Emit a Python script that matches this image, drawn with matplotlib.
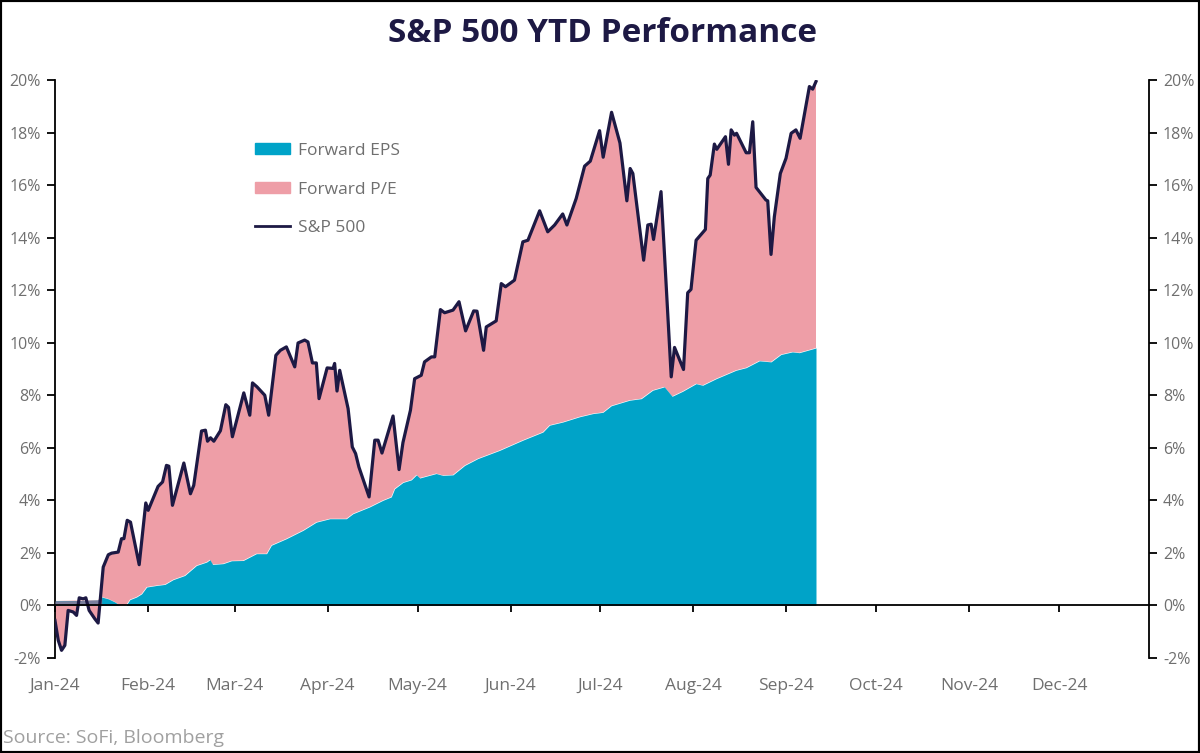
import matplotlib
matplotlib.use('Agg')
import matplotlib.pyplot as plt
import numpy as np
from matplotlib.patches import Patch, Rectangle
from matplotlib.lines import Line2D

# days since 1 Jan 2024 and YTD % change
sp_days = [0, 1.1, 2.2, 3.3, 4.4, 6.1, 7.2, 8.1, 9.4, 10.3, 11.4, 13.3, 14.4,
           16.1, 17.8, 18.9, 21.1, 22.2, 23.0, 24.1, 25.2, 28.1, 30.3, 31.1,
           34.4, 35.9, 37.2, 38.0, 39.2, 43.0, 45.2, 46.3, 48.9, 50.2, 50.9,
           51.9, 53.0, 55.2, 57.0, 57.9, 59.2, 63.0, 65.0, 65.9, 67.4, 70.0,
           71.3, 73.7, 75.2, 77.2, 80.0, 81.1, 83.3, 84.4, 85.9, 87.2, 88.1,
           90.8, 92.8, 93.3, 94.1, 95.0, 97.8, 99.2, 100.3, 101.4, 104.8,
           106.7, 107.8, 109.1, 112.8, 114.8, 116.1, 118.6, 120.0, 122.2,
           123.3, 125.6, 126.7, 128.6, 130.0, 132.8, 134.8, 137.0, 139.7,
           140.8, 143.0, 143.9, 147.2, 148.9, 150.3, 153.3, 156.1, 157.8,
           161.7, 164.4, 166.7, 169.4, 170.8, 173.9, 176.7, 178.6, 181.7,
           182.9, 185.7, 188.5, 190.8, 191.9, 192.8, 196.4, 197.8, 198.9,
           199.7, 202.2, 205.6, 206.7, 209.7, 211.1, 212.2, 213.9, 217.0,
           217.8, 218.6, 220.0, 220.8, 223.7, 224.7, 225.6, 226.7, 227.4,
           230.6, 231.7, 232.8, 233.9, 237.2, 237.8, 238.9, 240.0, 242.0,
           243.9, 245.6, 247.2, 248.6, 251.7, 252.8, 253.9]
sp_vals = [-0.57, -1.33, -1.71, -1.52, -0.19, -0.25, -0.38, 0.29, 0.25, 0.29,
           -0.19, -0.51, -0.67, 1.46, 1.93, 1.99, 2.03, 2.54, 2.54, 3.24, 3.17,
           1.55, 3.90, 3.62, 4.53, 4.70, 5.33, 5.30, 3.81, 5.42, 4.25, 4.57,
           6.64, 6.67, 6.25, 6.38, 6.25, 6.65, 7.64, 7.54, 6.42, 8.09, 7.24,
           8.47, 8.32, 8.00, 7.24, 9.52, 9.71, 9.84, 9.08, 9.99, 10.10, 10.03,
           9.23, 9.23, 7.87, 9.04, 9.02, 9.21, 8.16, 8.95, 7.49, 6.03, 5.78,
           5.27, 4.13, 6.29, 6.29, 5.80, 7.21, 5.17, 6.20, 7.43, 8.63, 8.76,
           9.27, 9.46, 9.46, 11.26, 11.14, 11.24, 11.56, 10.45, 11.21, 11.20,
           9.71, 10.60, 10.83, 12.25, 12.13, 12.38, 13.84, 13.90, 15.02, 14.22,
           14.48, 14.90, 14.48, 15.49, 16.72, 16.91, 18.07, 17.06, 18.77,
           17.60, 15.40, 16.63, 16.44, 13.14, 14.48, 14.51, 13.93, 15.75,
           8.70, 9.82, 8.98, 11.90, 12.03, 13.90, 14.31, 16.25, 16.38, 17.56,
           17.36, 17.84, 16.79, 18.10, 17.90, 17.97, 17.23, 17.23, 18.41,
           15.91, 15.43, 15.40, 13.36, 14.79, 16.44, 17.02, 17.97, 18.10,
           17.78, 19.75, 19.65, 19.94]

eps_days = [0, 14.3, 15.6, 17.8, 20.0, 21.7, 23.7, 25.0, 27.2, 28.9, 30.6,
            33.9, 36.7, 39.4, 43.3, 47.2, 50.6, 51.7, 52.6, 56.1, 58.9, 62.8,
            65.0, 67.2, 70.6, 72.2, 77.2, 82.8, 87.2, 91.7, 97.2, 99.4, 105.0,
            109.4, 112.2, 113.3, 116.1, 118.9, 120.6, 121.7, 127.2, 129.4,
            132.8, 136.7, 141.1, 148.3, 156.1, 162.8, 165.0, 169.4, 175.0,
            179.4, 182.8, 185.6, 191.7, 195.6, 199.4, 203.3, 205.9, 209.4,
            213.9, 216.1, 220.6, 227.2, 230.6, 235.0, 238.9, 242.2, 246.0,
            248.3, 253.3, 253.9]
eps_vals = [0.17, 0.20, 0.32, 0.25, 0.13, 0.0, 0.0, 0.22, 0.32, 0.44, 0.70,
            0.76, 0.80, 0.98, 1.14, 1.52, 1.65, 1.74, 1.56, 1.59, 1.70, 1.71,
            1.84, 1.97, 1.97, 2.29, 2.54, 2.86, 3.17, 3.30, 3.30, 3.49, 3.75,
            4.00, 4.13, 4.44, 4.68, 4.78, 4.97, 4.85, 5.02, 4.95, 4.97, 5.33,
            5.59, 5.90, 6.29, 6.60, 6.86, 6.98, 7.18, 7.30, 7.35, 7.60, 7.81,
            7.87, 8.19, 8.32, 7.96, 8.15, 8.44, 8.38, 8.63, 8.95, 9.05, 9.31,
            9.27, 9.55, 9.65, 9.62, 9.78, 9.80]

month_starts = [0, 31, 60, 91, 121, 152, 182, 213, 244, 274, 305, 335]
month_labels = ['Jan-24', 'Feb-24', 'Mar-24', 'Apr-24', 'May-24', 'Jun-24',
                'Jul-24', 'Aug-24', 'Sep-24', 'Oct-24', 'Nov-24', 'Dec-24']
y_ticks = [-2, 0, 2, 4, 6, 8, 10, 12, 14, 16, 18, 20]

blue = '#00a3c8'
pink = '#ee9ea7'
navy = '#1d1944'
grey_txt = '#6f6f6f'

plt.rcParams['font.family'] = ['Open Sans', 'DejaVu Sans']

fig = plt.figure(figsize=(12, 7.53), dpi=100)
ax = fig.add_axes([0.0458, 0.1262, 0.9117, 0.7676])

sp_days = np.array(sp_days)
eps_days = np.array(eps_days)
eps_vals = np.array(eps_vals)

# P/E contribution: area between the EPS curve and the index
ax.fill(np.r_[sp_days, eps_days[::-1]], np.r_[sp_vals, eps_vals[::-1]],
        color=pink, lw=0, zorder=1)
ax.fill_between(eps_days, 0, eps_vals, color=blue, lw=0, zorder=2)
# early Jan: index below EPS, the overlap shows greyish
ax.fill_between(eps_days, 0, eps_vals, where=eps_days <= 15.6,
                color='#7b7f9d', lw=0, zorder=3)
ax.plot(sp_days, sp_vals, color=navy, lw=2.3, zorder=4)

ax.set_xlim(0, 365)
ax.set_ylim(-2, 20)

ax.spines['top'].set_visible(False)
ax.spines['bottom'].set_position(('data', 0))
for s in ['left', 'right', 'bottom']:
    ax.spines[s].set_linewidth(1.3)
    ax.spines[s].set_color('black')
ax.spines['bottom'].set_zorder(5)

ax.set_xticks(month_starts, month_labels)
ax.tick_params(axis='x', length=5, width=1.3, pad=47, labelsize=12.5,
               labelcolor=grey_txt)
ax.set_yticks(y_ticks, [f'{v}%' for v in y_ticks])
ax.tick_params(axis='y', left=True, right=True, labelleft=True,
               labelright=True, length=6, width=1.3, labelsize=11.5,
               labelcolor=grey_txt, pad=4)

handles = [Patch(color=blue), Patch(color=pink), Line2D([], [], color=navy, lw=2)]
ax.legend(handles, ['Forward EPS', 'Forward P/E', 'S&P 500'],
          loc='upper left', bbox_to_anchor=(255 / 1200, 1 - 143 / 753),
          bbox_transform=fig.transFigure, frameon=False, borderpad=0,
          borderaxespad=0, handlelength=2.0, handleheight=0.6,
          handletextpad=0.45, labelspacing=1.3, fontsize=12.5,
          labelcolor=grey_txt)

fig.text(0.5025, 1 - 34 / 753, 'S&P 500 YTD Performance', ha='center',
         va='center', fontsize=24, weight='bold', color=navy)
fig.text(3 / 1200, 1 - 738 / 753, 'Source: SoFi, Bloomberg', ha='left',
         va='center', fontsize=14, color='#a0a0a0')

fig.patches.append(Rectangle((0, 0), 1, 1, transform=fig.transFigure,
                             fill=False, edgecolor='black', lw=3))

fig.savefig('out.png', dpi=100)
